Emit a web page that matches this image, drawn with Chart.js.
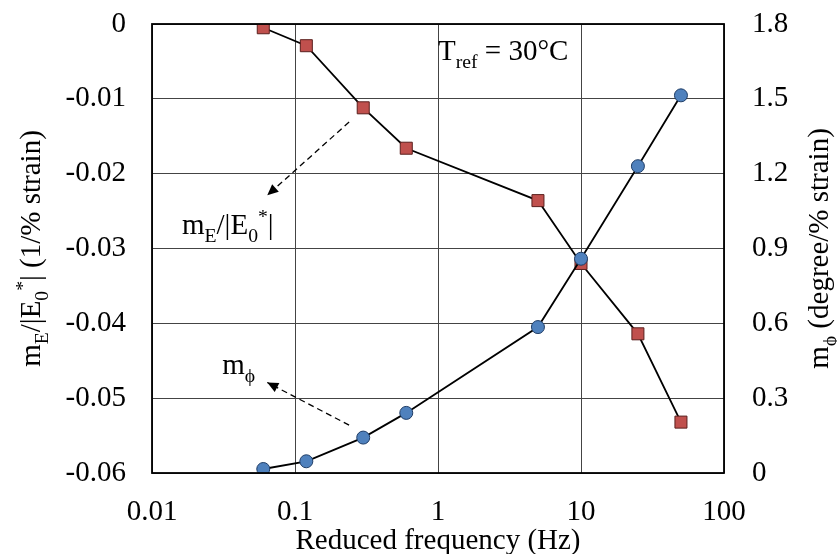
<!DOCTYPE html>
<html><head><meta charset="utf-8">
<script src="https://cdn.jsdelivr.net/npm/chart.js@4/dist/chart.umd.min.js"></script>
<style>html,body{margin:0;background:#fff}#wrap{width:837px;height:554px}</style>
</head><body><div id="wrap"><canvas id="c"></canvas></div>
<script>
const freq = [0.06, 0.12, 0.3, 0.6, 5, 10, 25, 50];
const mE   = [-0.0005, -0.0029, -0.0112, -0.0166, -0.0236, -0.0320, -0.0414, -0.0532];
const mPhi = [0.016, 0.047, 0.142, 0.241, 0.585, 0.859, 1.23, 1.514];
const xTicks = [0.01, 0.1, 1, 10, 100];

const FONT = '"Liberation Serif", "Times New Roman", serif';

// draw text with sub/superscript parts: [text, 'n'|'sub'|'sup']
function rich(ctx, parts, x, y, size) {
  let cx = x;
  for (const [t, k] of parts) {
    const s = k === 'n' ? size : size * 0.68;
    const dy = k === 'sub' ? size * 0.28 : k === 'sup' ? -size * 0.38 : 0;
    ctx.font = s + 'px ' + FONT;
    ctx.fillText(t, cx, y + dy);
    cx += ctx.measureText(t).width;
  }
  return cx - x;
}
function richWidth(ctx, parts, size) {
  let w = 0;
  for (const [t, k] of parts) { ctx.font = (k === 'n' ? size : size * 0.68) + 'px ' + FONT; w += ctx.measureText(t).width; }
  return w;
}
function arrow(ctx, x1, y1, x2, y2) {
  ctx.save();
  ctx.strokeStyle = '#000'; ctx.lineWidth = 1.3; ctx.setLineDash([6, 4]);
  ctx.beginPath(); ctx.moveTo(x1, y1); ctx.lineTo(x2, y2); ctx.stroke();
  ctx.setLineDash([]);
  const a = Math.atan2(y2 - y1, x2 - x1), L = 11, W = 5;
  ctx.beginPath(); ctx.moveTo(x2, y2);
  ctx.lineTo(x2 - L * Math.cos(a) + W * Math.sin(a), y2 - L * Math.sin(a) - W * Math.cos(a));
  ctx.lineTo(x2 - L * Math.cos(a) - W * Math.sin(a), y2 - L * Math.sin(a) + W * Math.cos(a));
  ctx.closePath(); ctx.fillStyle = '#000'; ctx.fill();
  ctx.restore();
}

const labels = {
  id: 'labels',
  afterDraw(chart) {
    const { ctx, chartArea: a, scales: { x, y } } = chart;
    ctx.save();
    ctx.fillStyle = '#000'; ctx.textBaseline = 'alphabetic';
    // box
    ctx.strokeStyle = '#000'; ctx.lineWidth = 1.8; ctx.strokeRect(a.left, a.top, a.right - a.left, a.bottom - a.top);
    // annotations
    rich(ctx, [['T', 'n'], ['ref', 'sub'], [' = 30°C', 'n']], x.getPixelForValue(1.0), y.getPixelForValue(-0.0048), 29);
    rich(ctx, [['m', 'n'], ['E', 'sub'], ['/|E', 'n'], ['0', 'sub'], ['*', 'sup'], ['|', 'n']], x.getPixelForValue(0.0162), y.getPixelForValue(-0.0281), 29);
    rich(ctx, [['m', 'n'], ['ϕ', 'sub']], x.getPixelForValue(0.031), y.getPixelForValue(-0.0468), 29);
    arrow(ctx, x.getPixelForValue(0.239), y.getPixelForValue(-0.0131), x.getPixelForValue(0.064), y.getPixelForValue(-0.0229));
    arrow(ctx, x.getPixelForValue(0.239), y.getPixelForValue(-0.0536), x.getPixelForValue(0.064), y.getPixelForValue(-0.0479));
    // axis titles
    ctx.font = '29px ' + FONT; ctx.textAlign = 'center';
    ctx.fillText('Reduced frequency (Hz)', (a.left + a.right) / 2, 549);
    ctx.textAlign = 'left';
    const lt = [['m', 'n'], ['E', 'sub'], ['/|E', 'n'], ['0', 'sub'], ['*', 'sup'], ['| (1/% strain)', 'n']];
    ctx.save(); ctx.translate(40, (a.top + a.bottom) / 2); ctx.rotate(-Math.PI / 2);
    rich(ctx, lt, -richWidth(ctx, lt, 29) / 2, 0, 29); ctx.restore();
    const rt = [['m', 'n'], ['ϕ', 'sub'], [' (degree/% strain)', 'n']];
    ctx.save(); ctx.translate(828, (a.top + a.bottom) / 2); ctx.rotate(-Math.PI / 2);
    rich(ctx, rt, -richWidth(ctx, rt, 29) / 2, 0, 29); ctx.restore();
    ctx.restore();
  }
};

new Chart(document.getElementById('c'), {
  type: 'line',
  data: {
    datasets: [
      { label: 'mE', data: freq.map((f, i) => ({ x: f, y: mE[i] })), yAxisID: 'y', order: 1,
        borderColor: '#000', borderWidth: 1.8, pointStyle: 'rect', pointRadius: 8.5,
        pointBackgroundColor: '#C0504D', pointBorderColor: '#5a1f1d', pointBorderWidth: 1 },
      { label: 'mPhi', data: freq.map((f, i) => ({ x: f, y: mPhi[i] })), yAxisID: 'y1', order: 0,
        borderColor: '#000', borderWidth: 1.8, pointStyle: 'circle', pointRadius: 6.5,
        pointBackgroundColor: '#4F81BD', pointBorderColor: '#1f3d66', pointBorderWidth: 1 }
    ]
  },
  options: {
    responsive: true, maintainAspectRatio: false, animation: false,
    layout: { padding: { top: 24 } },
    plugins: { legend: { display: false }, tooltip: { enabled: false } },
    scales: {
      x: {
        type: 'logarithmic', min: 0.01, max: 100,
        afterBuildTicks: s => { s.ticks = xTicks.map(v => ({ value: v })); },
        afterFit: s => { s.height = 81; s.paddingLeft = 0; s.paddingRight = 0; },
        ticks: { color: '#000', font: { family: FONT, size: 29 }, padding: 22, maxRotation: 0,
          callback: v => String(v) },
        grid: { color: '#444', lineWidth: 1, drawTicks: false },
        border: { display: false }
      },
      y: {
        position: 'left', min: -0.06, max: 0,
        afterFit: s => { s.width = 152; s.paddingTop = 0; s.paddingBottom = 0; },
        ticks: { stepSize: 0.01, color: '#000', font: { family: FONT, size: 29 }, padding: 26,
          callback: v => v === 0 ? '0' : (+v.toFixed(2)).toString() },
        grid: { color: '#444', lineWidth: 1, drawTicks: false },
        border: { display: false }
      },
      y1: {
        position: 'right', min: 0, max: 1.8,
        afterFit: s => { s.width = 113; s.paddingTop = 0; s.paddingBottom = 0; },
        ticks: { stepSize: 0.3, color: '#000', font: { family: FONT, size: 29 }, padding: 28,
          callback: v => v === 0 ? '0' : v.toFixed(1) },
        grid: { display: false, drawTicks: false },
        border: { display: false }
      }
    }
  },
  plugins: [labels]
});
</script></body></html>
